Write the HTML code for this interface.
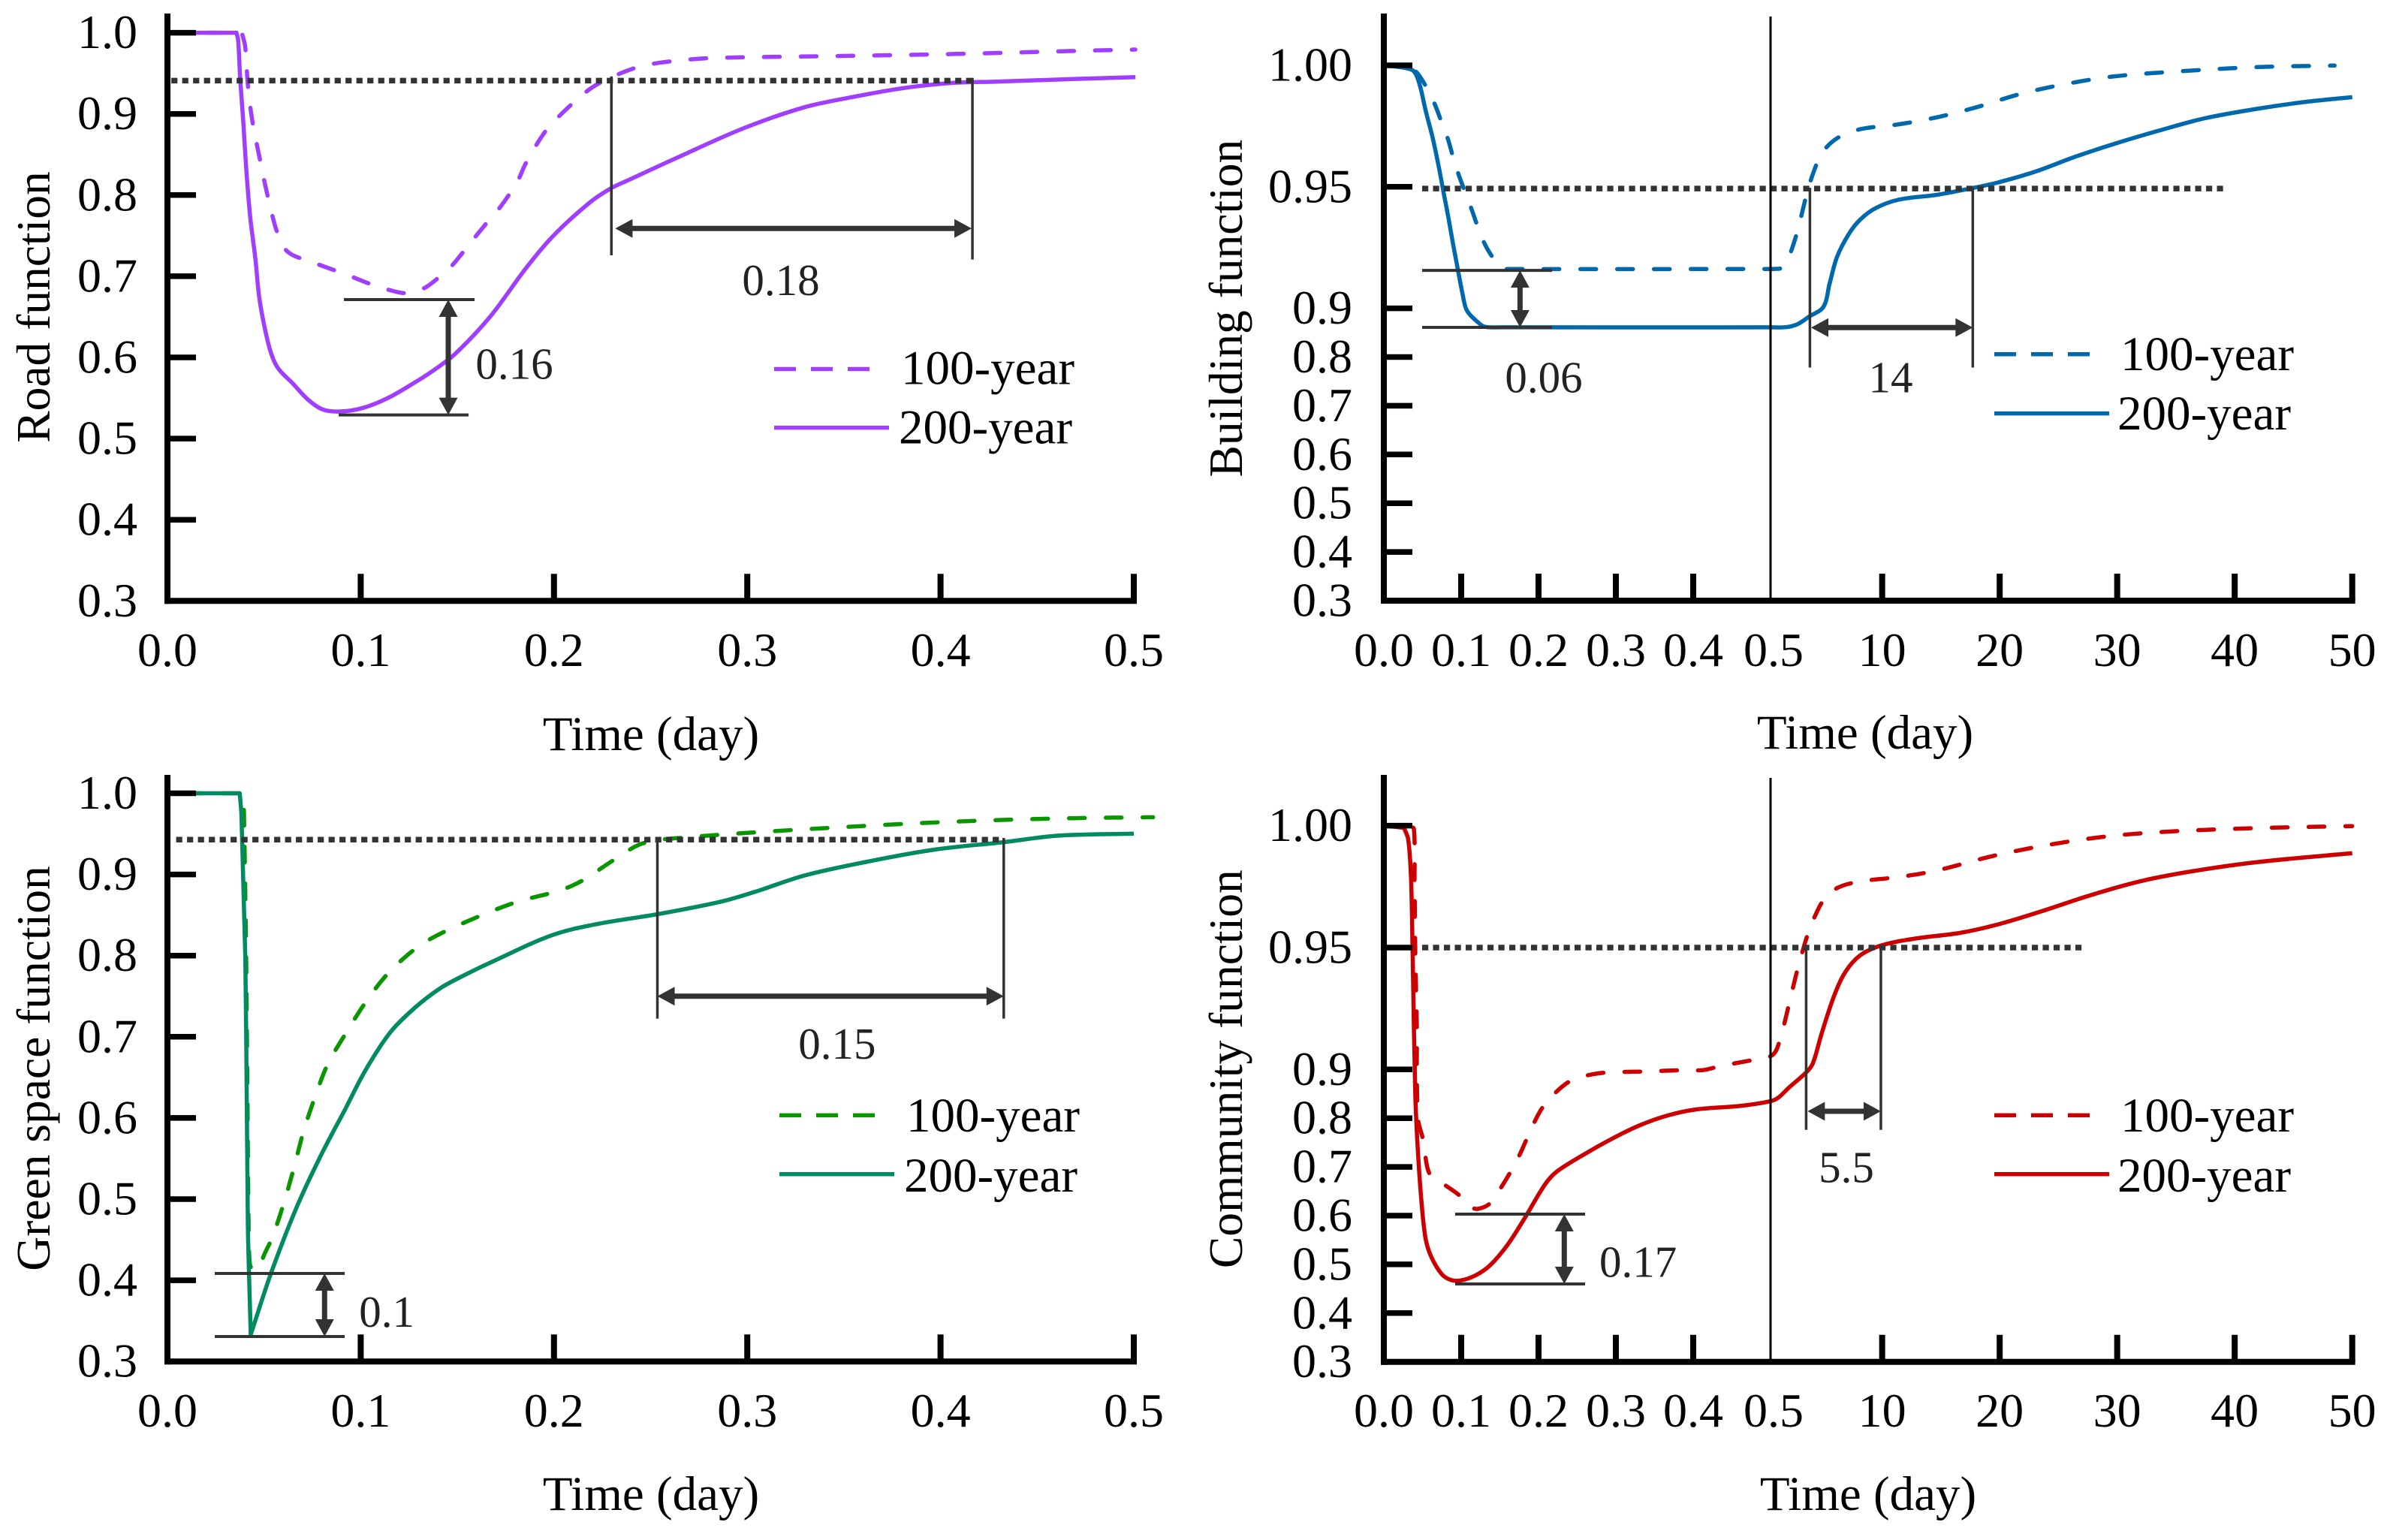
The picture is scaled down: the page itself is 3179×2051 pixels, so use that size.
<!DOCTYPE html>
<html lang="en">
<head>
<meta charset="utf-8">
<title>Function recovery curves</title>
<style>
html,body{margin:0;padding:0;background:#fff;}
svg{display:block;}
text{font-family:"Liberation Serif",serif;fill:#000;}
</style>
</head>
<body>
<svg id="chart" xmlns="http://www.w3.org/2000/svg" width="3179" height="2051" viewBox="0 0 3179 2051"></svg>
<script>
/* ---------- shared tick arrays ---------- */
const linearYTicks = [1.0, 0.9, 0.8, 0.7, 0.6, 0.5, 0.4, 0.3];
const linearYLabels = ["1.0", "0.9", "0.8", "0.7", "0.6", "0.5", "0.4", "0.3"];
const linearXTicks = [0, 0.1, 0.2, 0.3, 0.4, 0.5];
const linearXLabels = ["0.0", "0.1", "0.2", "0.3", "0.4", "0.5"];
const brokenYTicks = [1.0, 0.95, 0.9, 0.8, 0.7, 0.6, 0.5, 0.4, 0.3];
const brokenYLabels = ["1.00", "0.95", "0.9", "0.8", "0.7", "0.6", "0.5", "0.4", "0.3"];
const brokenXTicks = [0, 0.1, 0.2, 0.3, 0.4, 0.5, 10, 20, 30, 40, 50];
const brokenXLabels = ["0.0", "0.1", "0.2", "0.3", "0.4", "0.5", "10", "20", "30", "40", "50"];

/* ---------- road function ---------- */
const roadTime100 = [0, .0385, .0403, .0416, .0439, .0474, .0513, .0558, .0594, .0617, .0655, .0759, .085, .0951, .1037, .1137, .1232, .1322, .1387, .1471, .1529, .1592, .1643, .1711, .1763, .1818, .1853, .1948, .2027, .2186, .2305, .2424, .2543, .2741, .2939, .3494, .4088, .4683, .5008];
const roadValue100 = [1, 1, .982, .9359, .8917, .8491, .8049, .7613, .7394, .7313, .7253, .7164, .7086, .6997, .6916, .6838, .6792, .6846, .6952, .7129, .7295, .7483, .7631, .7819, .7989, .8202, .8387, .876, .8973, .9307, .9459, .9569, .9629, .9678, .9696, .9714, .9739, .9775, .9793];
const roadTime200 = [0, .0357, .0366, .0377, .0392, .0409, .0429, .0455, .0474, .05, .0532, .0571, .0649, .0726, .0804, .0895, .1011, .1141, .127, .1374, .1491, .1672, .1853, .1996, .2186, .2297, .2384, .2622, .2979, .3296, .3533, .3811, .4049, .4287, .4683, .5008];
const roadValue200 = [1, 1, .9907, .9414, .8917, .8279, .7712, .7217, .6757, .6403, .6084, .5871, .5677, .5482, .5358, .5334, .5377, .55, .5677, .5836, .6049, .6509, .7093, .7497, .791, .8086, .8183, .8444, .8821, .9082, .9203, .9319, .938, .9398, .9429, .9453];

/* ---------- building function ---------- */
const buildingTime100 = [0, .0334, .0427, .055, .0657, .0743, .0828, .0891, .0966, .1048, .1133, .1207, .1292, .14, .1523, .1635, .5, .845, 1.46, 2.02, 2.56, 2.97, 3.34, 3.66, 4.22, 4.87, 6.17, 8.13, 11.39, 14.65, 17.91, 21.82, 25.73, 29.64, 34.84, 42.02, 48.5];
const buildingValue100 = [1, .9991, .997, .991, .9841, .9769, .9697, .9627, .9551, .9481, .9409, .9342, .9273, .9213, .9167, .9162, .9162, .9162, .9167, .9208, .928, .9352, .9424, .9486, .9568, .9639, .97, .9737, .9757, .9786, .9826, .9883, .9924, .9954, .9974, .9993, .9999];
const buildingTime200 = [0, .0279, .0389, .0464, .0539, .0631, .0706, .0773, .0835, .0891, .0958, .1021, .1058, .1107, .1207, .13, .15, .5, 1.82, 2.8, 3.78, 5, 5.52, 6.17, 7.15, 8.13, 9.43, 11.39, 14.65, 17.71, 19.86, 23.12, 26.38, 29.96, 33.54, 37.46, 42.02, 45.93, 50];
const buildingValue200 = [1, .9989, .9975, .9919, .9816, .9702, .9589, .9476, .9373, .9271, .9157, .9053, .9002, .8881, .8727, .8624, .861, .861, .8613, .8675, .8829, .9006, .9101, .9213, .9305, .9365, .9412, .9447, .9467, .9495, .9518, .9564, .9623, .968, .9731, .9782, .9822, .9849, .9869];

/* ---------- green space function ---------- */
const greenTime100 = [0, .0392, .0396, .0407, .0413, .042, .0426, .0442, .0474, .0506, .0543, .0603, .0655, .0704, .0763, .083, .0927, .1028, .1145, .1303, .1475, .179, .2028, .2147, .2305, .2463, .2702, .3098, .3494, .3891, .4287, .4684, .51];
const greenValue100 = [1, 1, .975, .8, .6563, .4677, .4204, .4118, .4179, .4343, .4532, .4957, .5391, .5833, .6255, .6665, .7057, .7435, .7789, .8119, .8341, .8648, .8802, .8925, .9172, .9386, .9459, .9527, .9583, .9632, .9669, .9693, .9705];
const greenTime200 = [0, .0374, .0383, .0403, .0409, .0416, .0431, .0532, .0662, .0791, .0921, .1024, .1154, .1283, .1413, .1542, .1671, .1988, .2226, .2543, .286, .3038, .3296, .3613, .397, .4327, .4604, .5];
const greenValue200 = [1, 1, .9724, .7979, .6563, .4677, .3329, .406, .4863, .5524, .6114, .6586, .7057, .7364, .76, .7766, .7914, .825, .839, .8513, .8662, .8784, .8987, .9154, .9306, .9398, .9477, .9502];

/* ---------- community function ---------- */
const communityTime100 = [0, .0334, .0389, .0397, .0408, .0427, .0427, .0446, .0501, .0539, .0586, .0687, .0798, .0984, .1115, .1215, .1375, .1524, .1641, .1757, .185, .195, .205, .2211, .2415, .2667, .2905, .3388, .3883, .4124, .4354, .4837, .72, 1.29, 2.07, 2.8, 3.71, 4.4, 5, 6.17, 8.13, 11.39, 14.65, 19.21, 23.77, 28.98, 34.19, 42.02, 50];
const communityValue100 = [1, 1, .9985, .9758, .9462, .916, .8766, .7941, .7596, .7197, .6875, .6737, .662, .6406, .6186, .6138, .6255, .6599, .6908, .7252, .7582, .7927, .8216, .8512, .8766, .8891, .8938, .8958, .8986, .8986, .9014, .9043, .9061, .9121, .9267, .9411, .9561, .9641, .9693, .9744, .9771, .9789, .9816, .9873, .9918, .9955, .9975, .999, .9998];
const communityTime200 = [0, .026, .0316, .0352, .0371, .0389, .0408, .0438, .0483, .0539, .0613, .0743, .0854, .0984, .1188, .1375, .1597, .182, .2081, .2229, .2601, .2972, .3307, .3678, .405, .4607, .4979, 1.09, 2.07, 3.53, 4.09, 4.87, 5.85, 6.83, 8.13, 9.96, 12.69, 16.6, 19.86, 23.77, 27.68, 32.24, 36.8, 42.02, 50];
const communityValue200 = [1, .9991, .9943, .9778, .9503, .916, .8422, .739, .6359, .5533, .5156, .481, .4687, .4667, .4777, .4983, .5396, .5946, .6633, .6895, .7267, .7596, .7852, .8059, .8182, .8251, .834, .8408, .8629, .8938, .9024, .9151, .9294, .9397, .9468, .9509, .9536, .956, .9595, .9652, .9714, .9775, .9816, .9851, .9887];

/* ---------- annotations, all in data units: [t1, t2, value] / [t, v1, v2] / [t, v, text] ---------- */
const roadThreshold = [.002, .4165, .941];
const roadBands = [[.0913, .1589, .6712], [.0886, .1558, .5291]];
const roadMarkers = [[.2297, .9462, .7258], [.4165, .9443, .7206]];
const roadSpanV = [[.1453, .6712, .5291]];
const roadSpanH = [[.2317, .4161, .7589]];
const roadNotes = [[.1795, .5735, "0.16"], [.3174, .6768, "0.18"]];

const buildingThreshold = [.0495, 39.09, .9493];
const buildingBands = [[.0495, .2175, .9156], [.0495, .2175, .8609]];
const buildingMarkers = [[3.85, .9496, .7784], [17.71, .9496, .7784]];
const buildingSpanV = [[.1761, .9156, .8609]];
const buildingSpanH = [[3.95, 17.71, .8604]];
const buildingNotes = [[.2068, .7279, "0.06"], [10.72, .7279, "14"]];

const greenThreshold = [.0045, .4319, .9429];
const greenBands = [[.0245, .0917, .4084], [.0245, .0917, .3307]];
const greenMarkers = [[.2535, .945, .7224], [.4327, .945, .7224]];
const greenSpanV = [[.0813, .4084, .3307]];
const greenSpanH = [[.2535, .4327, .75]];
const greenNotes = [[.1135, .3428, "0.1"], [.3465, .673, "0.15"]];

const communityThreshold = [.0495, 27.02, .95];
const communityBands = [[.0922, .2602, .6031], [.0922, .2602, .4598]];
const communityMarkers = [[3.53, .95, .7761], [9.89, .95, .7761]];
const communitySpanV = [[.2333, .6031, .4598]];
const communitySpanH = [[3.65, 9.89, .8142]];
const communityNotes = [[.3288, .4743, "0.17"], [6.95, .6687, "5.5"]];

/* ---------- axis functions ---------- */
function linearX(t) { return 223 + 2574 * t; }
function brokenX(t) { return t <= 0.5 ? 1843 + 1030 * t : 2358 + (t - 0.5) * 15.65; }
function linearY(top) { return function (v) { return top + (1 - v) * 1081; }; }
function brokenY(top, span) {
  return function (v) {
    return v >= 0.9 ? top + (1 - v) * span : top + 0.1 * span + (0.9 - v) * 649;
  };
}

/* ---------- drawing helpers ---------- */
const svg = document.getElementById('chart');
const NS = 'http://www.w3.org/2000/svg';
const DARK = '#333';

function node(parent, tag, attrs, name) {
  const el = document.createElementNS(NS, tag);
  for (const k in attrs) el.setAttribute(k, attrs[k]);
  
  
  parent.appendChild(el);
  return el;
}
function rule(parent, x1, y1, x2, y2, color, width, name, extra) {
  return node(parent, 'line', Object.assign({ x1: x1, y1: y1, x2: x2, y2: y2, stroke: color, 'stroke-width': width }, extra || {}), name);
}
function label(parent, x, y, str, size, anchor, name, extra) {
  const el = node(parent, 'text', Object.assign({ x: x, y: y, 'font-size': size, 'text-anchor': anchor }, extra || {}), name);
  el.textContent = str;
  return el;
}
function arrow(parent, x1, y1, x2, y2, name) {
  const g = node(parent, 'g', {}, name);
  const len = Math.hypot(x2 - x1, y2 - y1);
  const ux = (x2 - x1) / len, uy = (y2 - y1) / len;
  const hl = 23, hw = 12.5;
  rule(g, x1 + ux * hl * .8, y1 + uy * hl * .8, x2 - ux * hl * .8, y2 - uy * hl * .8, DARK, 7, name + '-shaft');
  const head = function (tx, ty, dx, dy, n) {
    const bx = tx - dx * hl, by = ty - dy * hl;
    const pts = [tx, ty, bx - dy * hw, by + dx * hw, bx + dy * hw, by - dx * hw].join(' ');
    node(g, 'polygon', { points: pts, fill: DARK }, n);
  };
  head(x2, y2, ux, uy, name + '-head-end');
  head(x1, y1, -ux, -uy, name + '-head-start');
}
/* smooth path through the mapped points; sharp corners stay sharp */
function curvePath(times, values, X, Y) {
  const pts = times.map(function (t, i) { return [X(t), Y(values[i])]; });
  const unit = function (a, b) {
    const dx = b[0] - a[0], dy = b[1] - a[1], l = Math.hypot(dx, dy) || 1;
    return [dx / l, dy / l, l];
  };
  const tangent = function (i) {
    if (i === 0 || i === pts.length - 1) return null;
    const a = unit(pts[i - 1], pts[i]), b = unit(pts[i], pts[i + 1]);
    if (a[0] * b[0] + a[1] * b[1] < 0.5) return null;
    return unit(pts[i - 1], pts[i + 1]);
  };
  const f = function (n) { return n.toFixed(1); };
  let d = 'M' + f(pts[0][0]) + ' ' + f(pts[0][1]);
  for (let i = 0; i < pts.length - 1; i++) {
    const seg = unit(pts[i], pts[i + 1]);
    const t0 = tangent(i) || seg, t1 = tangent(i + 1) || seg;
    const k = seg[2] / 3;
    d += 'C' + f(pts[i][0] + t0[0] * k) + ' ' + f(pts[i][1] + t0[1] * k) + ' ' +
      f(pts[i + 1][0] - t1[0] * k) + ' ' + f(pts[i + 1][1] - t1[1] * k) + ' ' +
      f(pts[i + 1][0]) + ' ' + f(pts[i + 1][1]);
  }
  return d;
}

function drawPanel(p) {
  const g = node(svg, 'g', {}, p.id + '-panel');
  const X = p.X, Y = p.Y;

  /* series */
  node(g, 'path', {
    d: curvePath(p.t100, p.v100, X, Y), fill: 'none', stroke: p.color100, 'stroke-width': 5.5,
    'stroke-dasharray': '21 28', 'stroke-dashoffset': p.dashOffset, 'stroke-linecap': 'round', 'stroke-linejoin': 'round'
  }, p.id + '-100-year-line');
  node(g, 'path', {
    d: curvePath(p.t200, p.v200, X, Y), fill: 'none', stroke: p.color200, 'stroke-width': 5.5,
    'stroke-linejoin': 'round'
  }, p.id + '-200-year-line');

  /* threshold */
  rule(g, X(p.threshold[0]), Y(p.threshold[2]), X(p.threshold[1]), Y(p.threshold[2]), DARK, 7.5, p.id + '-threshold-line', { 'stroke-dasharray': '8.2 6.3' });

  /* annotations */
  p.bands.forEach(function (b, i) {
    rule(g, X(b[0]), Y(b[2]), X(b[1]), Y(b[2]), DARK, 4, p.id + '-drop-bound-' + i);
  });
  p.markers.forEach(function (m, i) {
    rule(g, X(m[0]), Y(m[1]), X(m[0]), Y(m[2]), DARK, 3.5, p.id + '-recovery-marker-' + i);
  });
  p.spanV.forEach(function (s, i) {
    arrow(g, X(s[0]), Y(s[1]), X(s[0]), Y(s[2]), p.id + '-drop-arrow-' + i);
  });
  p.spanH.forEach(function (s, i) {
    arrow(g, X(s[0]), Y(s[2]), X(s[1]), Y(s[2]), p.id + '-recovery-arrow-' + i);
  });
  p.notes.forEach(function (n, i) {
    label(g, X(n[0]), Y(n[1]), n[2], 59, 'middle', p.id + '-note-' + i, { style: 'fill:#222' });
  });

  /* axes (drawn above the curves) */
  const x0 = X(0), yBase = Y(0.3), xEnd = X(p.xTicks[p.xTicks.length - 1]);
  rule(g, x0, p.axisTop, x0, yBase + 4, '#000', 8, p.id + '-y-axis');
  rule(g, x0 - 4, yBase, xEnd + 4, yBase, '#000', 8, p.id + '-x-axis');
  p.yTicks.forEach(function (v, i) {
    if (v > 0.3) rule(g, x0, Y(v), x0 + 38, Y(v), '#000', 7.5, p.id + '-y-tick-' + p.yLabels[i]);
    label(g, p.yLabelX, Y(v) + 20.5, p.yLabels[i], 64, 'end', p.id + '-y-tick-label-' + p.yLabels[i]);
  });
  p.xTicks.forEach(function (t, i) {
    if (t > 0) {
      const isBreak = p.broken && t === 0.5;
      if (isBreak) rule(g, X(t), p.axisTop + 4, X(t), yBase, '#000', 3, p.id + '-axis-break-line');
      else rule(g, X(t), yBase, X(t), yBase - 36, '#000', 8, p.id + '-x-tick-' + p.xLabels[i]);
    }
    const dx = (p.broken && t === 0.5) ? 4 : 0;
    label(g, X(t) + dx, p.xLabelY, p.xLabels[i], 64, 'middle', p.id + '-x-tick-label-' + p.xLabels[i]);
  });

  /* axis titles */
  label(g, p.titleX, p.titleY, 'Time (day)', 65, 'middle', p.id + '-x-axis-title');
  label(g, 0, 0, p.yTitle, 63.5, 'middle', p.id + '-y-axis-title', { transform: 'translate(' + p.yTitleX + ' ' + p.yTitleY + ') rotate(-90)' });

  /* legend */
  const lg = node(g, 'g', {}, p.id + '-legend');
  const e1 = node(lg, 'g', {}, p.id + '-legend-entry-100-year');
  rule(e1, p.legend.x1, p.legend.y1, p.legend.x1 + 127, p.legend.y1, p.color100, 5.5, p.id + '-legend-swatch-100-year', { 'stroke-dasharray': '29 20' });
  label(e1, p.legend.tx1, p.legend.b1, '100-year', 65, 'start', p.id + '-legend-label-100-year');
  const e2 = node(lg, 'g', {}, p.id + '-legend-entry-200-year');
  rule(e2, p.legend.x1, p.legend.y2, p.legend.x1 + 153, p.legend.y2, p.color200, 5.5, p.id + '-legend-swatch-200-year');
  label(e2, p.legend.tx2, p.legend.b2, '200-year', 65, 'start', p.id + '-legend-label-200-year');
}

const linearSet = { broken: false, yTicks: linearYTicks, yLabels: linearYLabels, xTicks: linearXTicks, xLabels: linearXLabels, X: linearX, yLabelX: 183, yTitleX: 66 };
const brokenSet = { broken: true, yTicks: brokenYTicks, yLabels: brokenYLabels, xTicks: brokenXTicks, xLabels: brokenXLabels, X: brokenX, yLabelX: 1801, yTitleX: 1654 };

drawPanel(Object.assign({}, linearSet, {
  id: 'road', Y: linearY(43.6), axisTop: 18, xLabelY: 887, titleX: 867, titleY: 999, yTitle: 'Road function', yTitleY: 409,
  color100: '#a03eff', color200: '#a03eff', dashOffset: 45,
  t100: roadTime100, v100: roadValue100, t200: roadTime200, v200: roadValue200,
  threshold: roadThreshold, bands: roadBands, markers: roadMarkers, spanV: roadSpanV, spanH: roadSpanH, notes: roadNotes,
  legend: { x1: 1031, y1: 491.5, y2: 569.6, tx1: 1200, b1: 511.5, tx2: 1197, b2: 590.5 }
}));
drawPanel(Object.assign({}, brokenSet, {
  id: 'building', Y: brokenY(87, 3236), axisTop: 18, xLabelY: 887, titleX: 2484, titleY: 997, yTitle: 'Building function', yTitleY: 410.6,
  color100: '#0069ae', color200: '#0069ae', dashOffset: 4,
  t100: buildingTime100, v100: buildingValue100, t200: buildingTime200, v200: buildingValue200,
  threshold: buildingThreshold, bands: buildingBands, markers: buildingMarkers, spanV: buildingSpanV, spanH: buildingSpanH, notes: buildingNotes,
  legend: { x1: 2656, y1: 471.7, y2: 550.6, tx1: 2824, b1: 493, tx2: 2820, b2: 572 }
}));
drawPanel(Object.assign({}, linearSet, {
  id: 'green-space', Y: linearY(1056.5), axisTop: 1032, xLabelY: 1900, titleX: 867, titleY: 2011, yTitle: 'Green space function', yTitleY: 1423,
  color100: '#0a9600', color200: '#028a62', dashOffset: 24,
  t100: greenTime100, v100: greenValue100, t200: greenTime200, v200: greenValue200,
  threshold: greenThreshold, bands: greenBands, markers: greenMarkers, spanV: greenSpanV, spanH: greenSpanH, notes: greenNotes,
  legend: { x1: 1038, y1: 1485.4, y2: 1563.8, tx1: 1207, b1: 1507, tx2: 1204, b2: 1587 }
}));
drawPanel(Object.assign({}, brokenSet, {
  id: 'community', Y: brokenY(1099.6, 3247), axisTop: 1032, xLabelY: 1900, titleX: 2488, titleY: 2011, yTitle: 'Community function', yTitleY: 1423.7,
  color100: '#cc0000', color200: '#cc0000', dashOffset: 9,
  t100: communityTime100, v100: communityValue100, t200: communityTime200, v200: communityValue200,
  threshold: communityThreshold, bands: communityBands, markers: communityMarkers, spanV: communitySpanV, spanH: communitySpanH, notes: communityNotes,
  legend: { x1: 2656, y1: 1485.4, y2: 1563.8, tx1: 2824, b1: 1507, tx2: 2820, b2: 1587 }
}));
</script>
</body>
</html>
